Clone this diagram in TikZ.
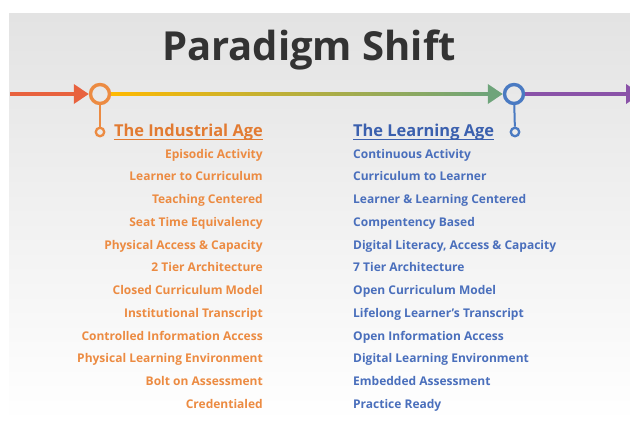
\documentclass[tikz,border=0pt]{standalone}
\usepackage{fontspec}
\setmainfont{Open Sans}
\usetikzlibrary{arrows.meta,
                calc,
                positioning}

\definecolor{indorange}{HTML}{EC8B42}
\definecolor{indhead}{HTML}{E27B32}
\definecolor{lrnblue}{HTML}{4A6FBC}
\definecolor{lrnhead}{HTML}{3B60AE}
\definecolor{lrnring}{HTML}{4A7AC2}
\definecolor{startred}{HTML}{E8623E}
\definecolor{arrowgreen}{HTML}{6EA47A}
\definecolor{endpurple}{HTML}{8A52A8}
\definecolor{titlegray}{HTML}{333333}

\begin{document}
\begin{tikzpicture}[x=1pt, y=-1pt,
    node distance = 0pt and 0pt,
      bigring/.style = {circle, draw, line width=3.4pt, minimum size=19pt, inner sep=0pt},
    smallring/.style = {circle, draw, line width=2.3pt, minimum size=8.5pt, inner sep=0pt},
         stem/.style = {line width=2pt},
     timeline/.style = {line width=3.6pt},
        tipbig/.style = {-{Triangle[length=15pt, width=19pt]}},
      heading/.style = {font=\fontsize{16.4}{19}\selectfont\bfseries, inner sep=0pt},
          row/.style = {font=\fontsize{12}{14}\selectfont\bfseries, minimum height=22.36pt,
                        inner xsep=0pt, inner ysep=0pt, text height=9pt, text depth=3pt},
       oldrow/.style = {row, text=indorange},
       newrow/.style = {row, text=lrnblue}
                    ]
  \clip (0,0) rectangle (630,431);
  \fill[white] (0,0) rectangle (630,431);
  \shade[top color=black!11, middle color=black!3, bottom color=white] (9,13) rectangle (630,422);
  %
  \node [font=\fontsize{40}{44}\selectfont\bfseries, text=titlegray, anchor=base] (title) at (309,60) {Paradigm Shift};
  %
  \coordinate (lstart) at (10,94);
  \coordinate (pend) at (641,94);
  \node [bigring, draw=indorange] (ind) at (100,94) {};
  \node [bigring, draw=lrnring]  (lrn) at (514,94) {};
  \node [smallring, draw=indorange] (indsm) at (100,132) {};
  \node [smallring, draw=lrnring]  (lrnsm) at (515,132) {};
  %---
  \draw [timeline, startred, tipbig] (lstart) -- (ind);
  \shade [left color=orange!55!yellow, middle color=yellow!80!orange!85!white, right color=arrowgreen]
         ($(ind.east)+(0,-1.8)$) rectangle ($(lrn.west)+(-14,1.8)$);
  \draw [timeline, arrowgreen, tipbig] ($(lrn.west)+(-15,0)$) -- (lrn);
  \draw [timeline, endpurple, tipbig] (lrn) -- (pend);
  \draw [stem, indorange] (ind) -- (indsm);
  \draw [stem, lrnring] (lrn) -- (lrnsm);
  %
  \node [heading, text=indhead, anchor=base east] (indtitle) at (263,136) {The Industrial Age};
  \node [heading, text=lrnhead, anchor=base west] (lrntitle) at (353,136) {The Learning Age};
  \draw [indhead, line width=1pt] ($(indtitle.base west)+(0,3)$) -- ($(indtitle.base east)+(0,3)$);
  \draw [lrnhead, line width=1pt] ($(lrntitle.base west)+(0,3)$) -- ($(lrntitle.base east)+(0,3)$);
  %%%%%% industrial age
  \node [oldrow, anchor=east] (o1) at (263,155) {Episodic Activity};
  \node [oldrow, below left=of o1.south east]  (o2)  {Learner to Curriculum};
  \node [oldrow, below left=of o2.south east]  (o3)  {Teaching Centered};
  \node [oldrow, below left=of o3.south east]  (o4)  {Seat Time Equivalency};
  \node [oldrow, below left=of o4.south east]  (o5)  {Physical Access \& Capacity};
  \node [oldrow, below left=of o5.south east]  (o6)  {2 Tier Architecture};
  \node [oldrow, below left=of o6.south east]  (o7)  {Closed Curriculum Model};
  \node [oldrow, below left=of o7.south east]  (o8)  {Institutional Transcript};
  \node [oldrow, below left=of o8.south east]  (o9)  {Controlled Information Access};
  \node [oldrow, below left=of o9.south east]  (o10) {Physical Learning Environment};
  \node [oldrow, below left=of o10.south east] (o11) {Bolt on Assessment};
  \node [oldrow, below left=of o11.south east] (o12) {Credentialed};
  %%%%%% learning age
  \node [newrow, anchor=west] (n1) at (353,155) {Continuous Activity};
  \node [newrow, below right=of n1.south west]  (n2)  {Curriculum to Learner};
  \node [newrow, below right=of n2.south west]  (n3)  {Learner \& Learning Centered};
  \node [newrow, below right=of n3.south west]  (n4)  {Compentency Based};
  \node [newrow, below right=of n4.south west]  (n5)  {Digital Literacy, Access \& Capacity};
  \node [newrow, below right=of n5.south west]  (n6)  {7 Tier Architecture};
  \node [newrow, below right=of n6.south west]  (n7)  {Open Curriculum Model};
  \node [newrow, below right=of n7.south west]  (n8)  {Lifelong Learner’s Transcript};
  \node [newrow, below right=of n8.south west]  (n9)  {Open Information Access};
  \node [newrow, below right=of n9.south west]  (n10) {Digital Learning Environment};
  \node [newrow, below right=of n10.south west] (n11) {Embedded Assessment};
  \node [newrow, below right=of n11.south west] (n12) {Practice Ready};
  %
\end{tikzpicture}
\end{document}
